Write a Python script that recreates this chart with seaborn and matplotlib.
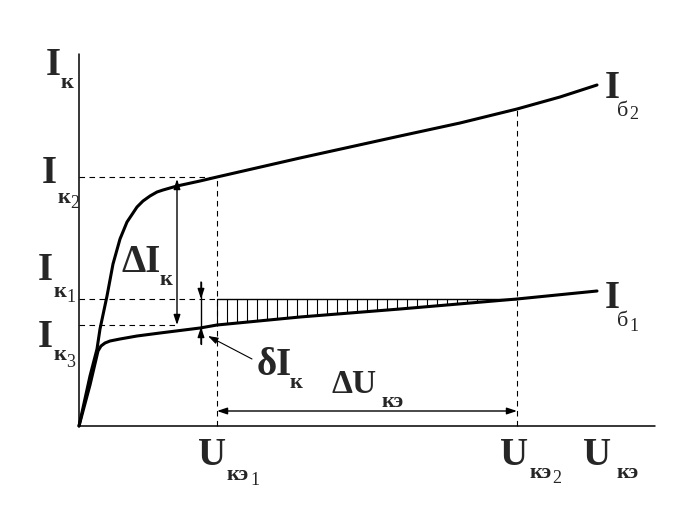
import numpy as np
import seaborn as sns
import matplotlib
matplotlib.use("Agg")
import matplotlib.pyplot as plt

# output characteristics (U_ke, I_k) in drawing units, origin at axis corner
u_b2 = [0, 11, 18, 21, 28, 34, 41, 48, 58, 64, 71, 78, 84, 98, 121, 138, 221, 321, 381, 438, 481, 518]
i_b2 = [0, 50, 77, 97, 130, 162, 187, 204, 219, 225, 230, 234, 236, 240, 245, 249, 268, 290, 303, 317, 329, 341]
u_b1 = [0, 11, 19, 22, 26, 31, 41, 58, 81, 121, 138, 221, 321, 438, 518]
i_b1 = [0, 41, 75, 80, 83, 85, 87, 90, 93, 98, 101, 109, 117, 127, 135]

u_ke1, u_ke2 = 138, 438
i_k1, i_k2, i_k3 = 127, 249, 101
u_max, i_max = 576, 372

sns.set_style("white")
plt.rcParams['font.family'] = ['Liberation Serif', 'DejaVu Serif']

fig = plt.figure(figsize=(6.9, 5.06), dpi=100)
ax = fig.add_axes([0, 0, 1, 1])
ax.set_xlim(-79, 611)
ax.set_ylim(-79, 427)
ax.axis("off")

# axes
ax.plot([0, 0], [0, i_max], color="black", lw=1.1)
ax.plot([0, u_max], [0, 0], color="black", lw=1.1)

# curves
sns.lineplot(x=u_b2, y=i_b2, ax=ax, color="black", lw=2.2, sort=False, estimator=None)
sns.lineplot(x=u_b1, y=i_b1, ax=ax, color="black", lw=2.2, sort=False, estimator=None)

# dashed guides
ds = dict(color="black", lw=0.8, linestyle=(0, (5, 4)))
ax.plot([0, u_ke1], [i_k2, i_k2], **ds)
ax.plot([0, u_ke1], [i_k1, i_k1], **ds)
ax.plot([0, 98], [i_k3, i_k3], **ds)
ax.plot([u_ke1, u_ke1], [0, i_k2], **ds)
ax.plot([u_ke2, u_ke2], [0, np.interp(u_ke2, u_b2, i_b2)], **ds)

# hatched area between I_k1 level and lower curve
ax.plot([u_ke1, u_ke2], [i_k1, i_k1], color="black", lw=1.0)
hx = np.arange(u_ke1, u_ke2 + 1, 10)
ax.vlines(hx, np.interp(hx, u_b1, i_b1), i_k1, color="black", lw=0.8)

arr = dict(arrowstyle="-|>,head_length=0.6,head_width=0.2", color="black", lw=1.0,
           shrinkA=0, shrinkB=0)
arr2 = dict(arrowstyle="<|-|>,head_length=0.6,head_width=0.2", color="black", lw=1.0,
            shrinkA=0, shrinkB=0)

# delta I_k
ax.annotate("", xy=(98, 247), xytext=(98, i_k3), arrowprops=arr2)
# delta U_ke
ax.annotate("", xy=(u_ke1, 15), xytext=(u_ke2, 15), arrowprops=arr2)
# small delta I_k
ax.plot([122, 122], [144, 82], color="black", lw=1.0)
ax.annotate("", xy=(122, i_k1), xytext=(122, 144), arrowprops=arr)
ax.annotate("", xy=(122, 99), xytext=(122, 82), arrowprops=arr)
ax.annotate("", xy=(129, 90), xytext=(173, 67), arrowprops=dict(arr, lw=0.8))

sub, num = 16, 13


def label(x, y, main, s, n=None, dx=15, sdy=-13, ndx=0, ndy=-20, sw="bold", big=28):
    t = ax.text(x, y, main, fontsize=big, fontweight="bold", va="baseline", ha="left")
    ax.text(x + dx, y + sdy, s, fontsize=sub, fontweight=sw, va="baseline", ha="left")
    if n is not None:
        ax.text(x + ndx, y + ndy, n, fontsize=num, va="baseline", ha="left")
    return t


label(-33, 352, "I", "к")
label(-37, 244, "I", "к", "2", dx=16, sdy=-20, ndx=28, ndy=-25)
label(-41, 147, "I", "к", "1", dx=16, sdy=-17, ndx=28, ndy=-22)
label(-41, 80, "I", "к", "3", dx=16, sdy=-13, ndx=28, ndy=-20)
label(43, 155, "ΔI", "к", dx=81 - 43, sdy=-13)
label(178, 52, "δI", "к", dx=211 - 178, sdy=-13)
label(252, 34, "ΔU", "кэ", dx=303 - 252, sdy=-14, big=24)
label(119, -38, "U", "кэ", "1", dx=148 - 119, sdy=-15, ndx=171 - 119, ndy=-20)
label(421, -38, "U", "кэ", "2", dx=451 - 421, sdy=-13, ndx=473 - 421, ndy=-18)
label(504, -38, "U", "кэ", dx=538 - 504, sdy=-13)
label(526, 329, "I", "б", "2", dx=12, sdy=-18, sw="normal", ndx=24, ndy=-21)
label(526, 119, "I", "б", "1", dx=12, sdy=-18, sw="normal", ndx=24, ndy=-23)

fig.savefig("out.png", dpi=100)
